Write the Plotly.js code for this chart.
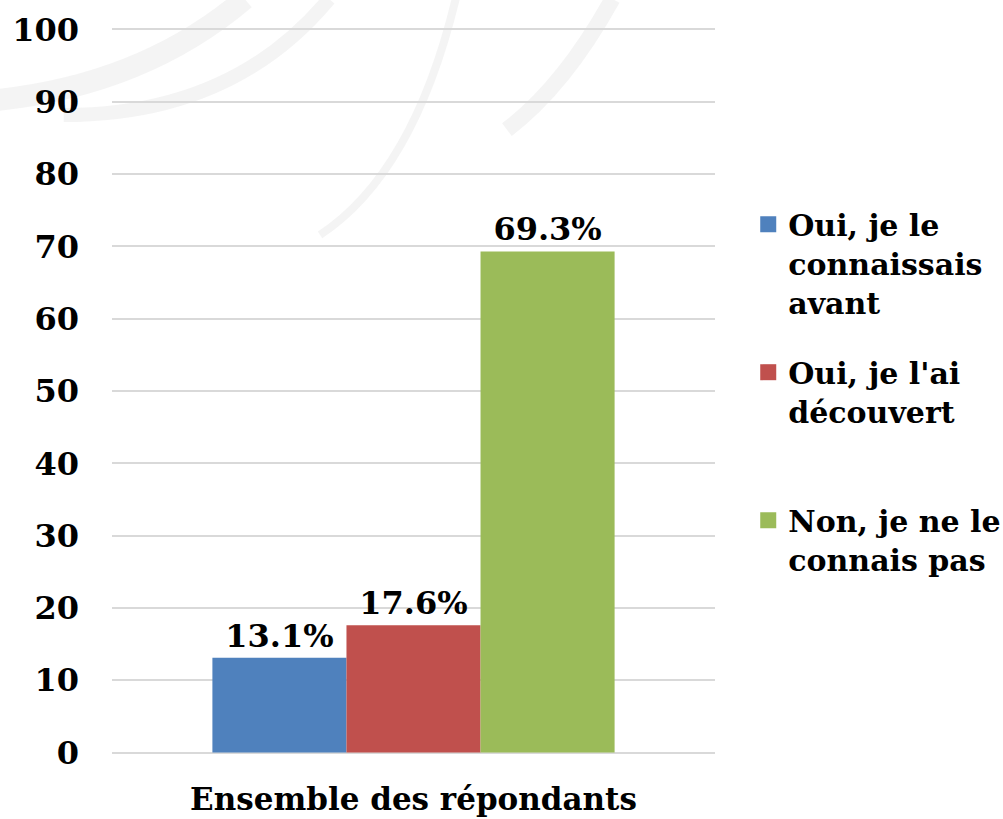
<!DOCTYPE html>
<html>
<head>
<meta charset="utf-8">
<script src="https://cdn.plot.ly/plotly-3.0.1.min.js"></script>
<style>html,body{margin:0;padding:0;background:#fff;}#chart{width:1003px;height:819px;}</style>
</head>
<body>
<div id="chart"></div>
<script>
const category = ["Ensemble des répondants"];
const seriesNames = ["Oui, je le<br>connaissais<br>avant", "Oui, je l'ai<br>découvert<br> ", "Non, je ne le<br>connais pas"];
const seriesValues = [13.1, 17.6, 69.3];
const seriesColors = ["#4f81bd", "#c0504d", "#9bbb59"];
const yTicks = [0, 10, 20, 30, 40, 50, 60, 70, 80, 90, 100];

const FONT = "DejaVu Serif";
const traces = [];
seriesValues.forEach((v, i) => {
  traces.push({
    type: "bar", x: category, y: [v], name: seriesNames[i],
    marker: {color: seriesColors[i]},
    text: [v.toFixed(1) + "%"], textposition: "outside", cliponaxis: false,
    textfont: {family: FONT, size: 32, color: "#000", weight: "bold"},
    showlegend: false, hoverinfo: "skip"
  });
});
seriesValues.forEach((v, i) => {
  traces.push({
    type: "scatter", mode: "markers", x: [null], y: [null], name: seriesNames[i],
    legendgroup: "g" + i,
    marker: {symbol: "square", size: 22, color: seriesColors[i]},
    showlegend: true, hoverinfo: "skip"
  });
});

const arcColor = "rgba(200,200,200,0.2)";
const layout = {
  width: 1003, height: 819,
  margin: {l: 112, r: 288, t: 28, b: 65},
  paper_bgcolor: "#ffffff", plot_bgcolor: "rgba(0,0,0,0)",
  font: {family: FONT, color: "#000", size: 30, weight: "bold"},
  barmode: "group", bargap: 0.333, bargroupgap: 0,
  xaxis: {
    type: "category", showgrid: false, zeroline: false, showline: false, ticks: "",
    tickfont: {family: FONT, size: 31, weight: "bold"}, ticklabelstandoff: 24
  },
  yaxis: {
    range: [-0.2, 100.2], tickvals: yTicks, ticktext: yTicks.map(String),
    showgrid: true, gridcolor: "#d9d9d9", gridwidth: 2, zeroline: false, showline: false,
    tickfont: {family: FONT, size: 32, weight: "bold"}, ticklabelstandoff: 32
  },
  legend: {
    xref: "container", yref: "container",
    x: 0.746, y: 0.758, xanchor: "left", yanchor: "top", valign: "top",
    font: {family: FONT, size: 30, weight: "bold"}, itemwidth: 30,
    tracegroupgap: 28, bgcolor: "rgba(0,0,0,0)"
  },
  shapes: [
    {type: "path", xref: "paper", yref: "paper", layer: "below",
     path: "M -0.2 0.9 Q 0.05 0.92 0.22 1.04", line: {color: arcColor, width: 22}},
    {type: "path", xref: "paper", yref: "paper", layer: "below",
     path: "M -0.08 0.88 Q 0.2 0.88 0.36 1.04", line: {color: arcColor, width: 14}},
    {type: "path", xref: "paper", yref: "paper", layer: "below",
     path: "M 0.345 0.715 Q 0.5 0.8 0.57 1.04", line: {color: arcColor, width: 8}},
    {type: "path", xref: "paper", yref: "paper", layer: "below",
     path: "M 0.655 0.86 Q 0.75 0.92 0.83 1.04", line: {color: arcColor, width: 16}}
  ]
};
Plotly.newPlot("chart", traces, layout, {displayModeBar: false, staticPlot: true});
</script>
</body>
</html>
